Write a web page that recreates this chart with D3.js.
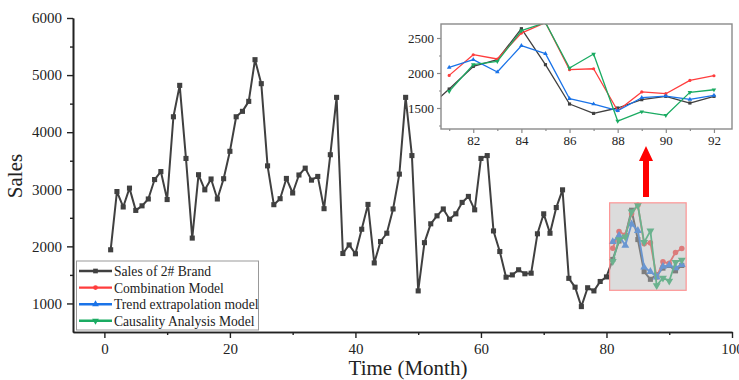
<!DOCTYPE html>
<html>
<head>
<meta charset="utf-8">
<script src="https://cdn.jsdelivr.net/npm/d3@7"></script>
<style>
  body { margin: 0; background: #fff; }
  svg, svg text { font-family: "Liberation Serif", "Times New Roman", serif; }
</style>
</head>
<body>
<div id="chart"></div>
<script>
// actual monthly sales, months 1..92
const sales = [1940, 2960, 2690, 3020, 2630, 2710, 2830, 3170, 3310, 2820,
  4270, 4820, 3540, 2145, 3255, 2990, 3180, 2830, 3185, 3665,
  4270, 4365, 4540, 5270, 4850, 3410, 2730, 2835, 3190, 2935,
  3250, 3370, 3160, 3225, 2660, 3605, 4610, 1875, 2025, 1870,
  2300, 2735, 1710, 2085, 2230, 2655, 3265, 4610, 3590, 1220,
  2065, 2395, 2535, 2655, 2475, 2570, 2770, 2875, 2640, 3540,
  3590, 2270, 1910, 1460, 1500, 1590, 1520, 1530, 2220, 2570,
  2230, 2680, 2990, 1440, 1285, 945, 1275, 1220, 1385, 1465,
  1771, 2094, 2190, 2633, 2119, 1557, 1423, 1500, 1619, 1666, 1571, 1666];
// forecast months 81..92
const forecastMonths = [81, 82, 83, 84, 85, 86, 87, 88, 89, 90, 91, 92];
const combination = [1966, 2261, 2200, 2571, 2720, 2047, 2061, 1461, 1729, 1704, 1894, 1961];
const trend = [2080, 2190, 2014, 2390, 2276, 1633, 1557, 1461, 1647, 1671, 1623, 1680];
const causality = [1737, 2119, 2166, 2604, 2720, 2071, 2271, 1314, 1447, 1394, 1723, 1761];

const xTicks = [0, 20, 40, 60, 80, 100];
const yTicks = [1000, 2000, 3000, 4000, 5000, 6000];
const insetXTicks = [82, 84, 86, 88, 90, 92];
const insetYTicks = [1500, 2000, 2500];

const width = 739, height = 380;
const svg = d3.select('#chart').append('svg')
  .attr('width', width).attr('height', height);

const x = d3.scaleLinear().domain([-5, 100]).range([73, 732]);
const y = d3.scaleLinear().domain([500, 6000]).range([332, 18]);

const series = [
  { name: 'Sales of 2# Brand', color: '#404040', shape: 'square',
    data: sales.map((v, i) => [i + 1, v]) },
  { name: 'Combination Model', color: '#ff3d3d', shape: 'circle',
    data: forecastMonths.map((m, i) => [m, combination[i]]) },
  { name: 'Trend extrapolation model', color: '#1a73e8', shape: 'up',
    data: forecastMonths.map((m, i) => [m, trend[i]]) },
  { name: 'Causality Analysis Model', color: '#1aab62', shape: 'down',
    data: forecastMonths.map((m, i) => [m, causality[i]]) }
];

function marker(shape, size) {
  if (shape === 'square') return d3.symbol().type(d3.symbolSquare).size(size)();
  if (shape === 'circle') return d3.symbol().type(d3.symbolCircle).size(size * 0.8)();
  return d3.symbol().type(d3.symbolTriangle).size(size * 0.9)();
}

function drawSeries(g, s, xs, ys, lw, ms) {
  const line = d3.line().x(d => xs(d[0])).y(d => ys(d[1]));
  g.append('path').datum(s.data)
    .attr('d', line).attr('fill', 'none')
    .attr('stroke', s.color).attr('stroke-width', lw)
    .attr('stroke-linejoin', 'round');
  g.selectAll(null).data(s.data).enter().append('path')
    .attr('d', marker(s.shape, ms))
    .attr('transform', d => `translate(${xs(d[0])},${ys(d[1])})` + (s.shape === 'down' ? ' rotate(180)' : ''))
    .attr('fill', s.color);
}

// main plot
const main = svg.append('g');
series.forEach(s => drawSeries(main, s, x, y, s.shape === 'square' ? 2 : 1.8, s.shape === 'square' ? 26 : 30));

// translucent highlight box over the forecast window
main.append('rect')
  .attr('x', x(80.5)).attr('y', y(2763))
  .attr('width', x(92.7) - x(80.5)).attr('height', y(1230) - y(2763))
  .attr('fill', 'rgb(185,185,185)').attr('fill-opacity', 0.5)
  .attr('stroke', '#ff8080').attr('stroke-opacity', 0.8).attr('stroke-width', 1.2);

// arrow
const ax = 646;
svg.append('rect').attr('x', ax - 3).attr('y', 160).attr('width', 6).attr('height', 37).attr('fill', '#ff0000');
svg.append('path').attr('d', `M${ax - 7},161 L${ax},146 L${ax + 7},161 Z`).attr('fill', '#ff0000');

// main axes
const fmt = d3.format('d');
const serif = '"Liberation Serif", "Times New Roman", serif';
const yAxis = svg.append('g').attr('transform', `translate(${x(-5)},0)`)
  .call(d3.axisLeft(y).tickValues(yTicks).tickFormat(fmt).tickSize(6).tickSizeOuter(0).tickPadding(5));
svg.append('g').attr('transform', `translate(${x(-5)},0)`)
  .call(d3.axisLeft(y).tickValues([1500, 2500, 3500, 4500, 5500]).tickSize(3).tickFormat('').tickSizeOuter(0));
const xAxis = svg.append('g').attr('transform', `translate(0,${y(500)})`)
  .call(d3.axisBottom(x).tickValues(xTicks).tickFormat(fmt).tickSize(6).tickSizeOuter(0).tickPadding(5));
svg.append('g').attr('transform', `translate(0,${y(500)})`)
  .call(d3.axisBottom(x).tickValues([10, 30, 50, 70, 90]).tickSize(3).tickFormat('').tickSizeOuter(0));
svg.selectAll('.domain').attr('stroke', '#222').attr('stroke-width', 1.6);
svg.selectAll('.tick line').attr('stroke', '#222').attr('stroke-width', 1.4);
[yAxis, xAxis].forEach(a => a.attr('font-family', serif).attr('font-size', 15)
  .selectAll('text').attr('fill', '#222'));

svg.append('text').attr('transform', 'translate(22,176) rotate(-90)')
  .attr('text-anchor', 'middle').attr('font-size', 21).attr('fill', '#222').text('Sales');
svg.append('text').attr('x', 408).attr('y', 375)
  .attr('text-anchor', 'middle').attr('font-size', 21).attr('fill', '#222').text('Time (Month)');

// legend
const legend = svg.append('g');
legend.append('rect').attr('x', 76.5).attr('y', 261).attr('width', 182).attr('height', 69)
  .attr('fill', '#fff').attr('stroke', '#999').attr('stroke-width', 1);
series.forEach((s, i) => {
  const ly = 271 + i * 16.6;
  legend.append('line').attr('x1', 79).attr('x2', 112).attr('y1', ly).attr('y2', ly)
    .attr('stroke', s.color).attr('stroke-width', 2.4);
  legend.append('path').attr('d', marker(s.shape, 22))
    .attr('transform', `translate(95.5,${ly})` + (s.shape === 'down' ? ' rotate(180)' : ''))
    .attr('fill', s.color);
  legend.append('text').attr('x', 114).attr('y', ly + 5).attr('font-size', 13.6)
    .attr('fill', '#222').text(s.name);
});

// inset zoom of the forecast window
const ix = d3.scaleLinear().domain([80.66, 92.75]).range([441, 732]);
const iy = d3.scaleLinear().domain([1200, 2700]).range([129, 24]);
const inset = svg.append('g');
inset.append('rect').attr('x', 441).attr('y', 24).attr('width', 291).attr('height', 105).attr('fill', '#fff');
svg.append('clipPath').attr('id', 'insetClip').append('rect')
  .attr('x', 441).attr('y', 24).attr('width', 291).attr('height', 105);
const insetPlot = inset.append('g').attr('clip-path', 'url(#insetClip)');
series.forEach(s => {
  const data = s.shape === 'square' ? s.data.filter(d => d[0] >= 80) : s.data;
  drawSeries(insetPlot, { ...s, data }, ix, iy, 1.3, 10);
});
inset.append('rect').attr('x', 441).attr('y', 24).attr('width', 291).attr('height', 105)
  .attr('fill', 'none').attr('stroke', '#8a8a8a').attr('stroke-width', 1.4);

const iyAxis = inset.append('g').attr('transform', 'translate(441,0)')
  .call(d3.axisLeft(iy).tickValues(insetYTicks).tickFormat(fmt).tickSize(4).tickSizeOuter(0).tickPadding(3));
inset.append('g').attr('transform', 'translate(441,0)')
  .call(d3.axisLeft(iy).tickValues([1250, 1750, 2250]).tickSize(2).tickFormat('').tickSizeOuter(0));
const ixAxis = inset.append('g').attr('transform', 'translate(0,129)')
  .call(d3.axisBottom(ix).tickValues(insetXTicks).tickFormat(fmt).tickSize(4).tickSizeOuter(0).tickPadding(3));
inset.append('g').attr('transform', 'translate(0,129)')
  .call(d3.axisBottom(ix).tickValues([81, 83, 85, 87, 89, 91]).tickSize(2).tickFormat('').tickSizeOuter(0));
inset.selectAll('.domain').attr('stroke', 'none');
inset.selectAll('.tick line').attr('stroke', '#8a8a8a').attr('stroke-width', 1.2);
[iyAxis, ixAxis].forEach(a => a.attr('font-family', serif).attr('font-size', 13)
  .selectAll('text').attr('fill', '#222'));
</script>
</body>
</html>
